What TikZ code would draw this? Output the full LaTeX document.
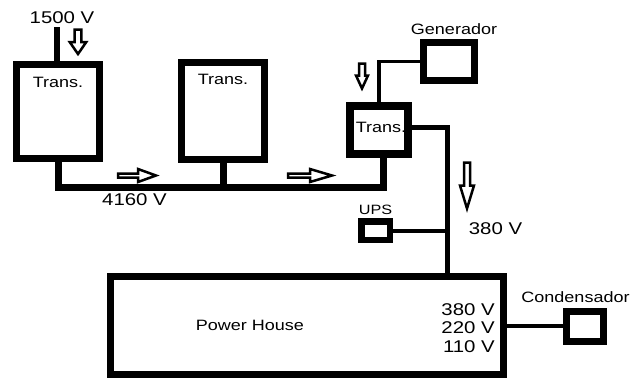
\documentclass[tikz,border=0pt]{standalone}
\usepackage{fontspec}
\setmainfont{Liberation Sans}[FakeStretch=1.2]
\usetikzlibrary{positioning,calc}
\tikzset{
  unit/.style={rectangle, draw, fill=white, line width=7pt, inner sep=0pt},
  bus/.style={line width=7pt, line join=miter},
  feed/.style={line width=4pt, line join=miter},
  lbl/.style={inner sep=0pt, font=\fontsize{15}{18}\selectfont},
  volt/.style={inner sep=0pt, font=\fontsize{17}{18.7}\selectfont},
  arrowline/.style={line width=2.5pt, line join=miter},
  % hollow arrow: length, head length, shaft half width, head half width
  pics/hollow/.style n args={4}{code={
    \draw[arrowline] (0,{-#3}) -- ({#1-#2},{-#3}) -- ({#1-#2},{-#4}) -- (#1,0)
      -- ({#1-#2},{#4}) -- ({#1-#2},{#3}) -- (0,{#3}) -- cycle;
  }},
}

\begin{document}
\begin{tikzpicture}[x=1pt, y=-1pt]
  \useasboundingbox (0,0) rectangle (634,381);

  % transformers
  \node[unit, minimum width=83pt, minimum height=94pt] (t1) at (58,111.5) {};
  \node[unit, minimum width=83pt, minimum height=97pt] (t2) at (223,111) {};
  \node[unit, line width=8pt, minimum width=58pt, minimum height=48pt] (t3) at (379,130) {};
  \node[unit, minimum width=51pt, minimum height=38pt] (gen) at (449,61.5) {};
  \node[unit, line width=6.5pt, minimum width=28.5pt, minimum height=18.5pt] (ups) at (375.5,230.5) {};
  \node[unit, minimum width=393pt, minimum height=98pt] (ph) at (307,325.5) {};
  \node[unit, minimum width=37pt, minimum height=30pt] (cond) at (584.5,326) {};

  \coordinate (in15) at (57,27);
  \coordinate (busR) at (383.5,187);
  \coordinate (bend) at (447.5,127.5);

  % lines
  \draw[bus, line width=6pt] (in15) -- (in15 |- t1.north);
  \draw[bus] (t1.south) |- (busR) -- (busR |- t3.south);
  \draw[bus] (t2.south) -- (t2.south |- busR);
  \draw[feed, line width=3.5pt] (t3.north) |- (gen.west);
  \draw[bus, line width=5pt] (t3.east |- bend) -- (bend) -- (bend |- ph.north);
  \draw[feed] (ups.east) -- (ups.east -| bend);
  \draw[feed] (ph.east) -- (ph.east -| cond.west);

  % hollow arrows
  \pic[rotate=-90] (a1) at (78,29.5) {hollow={24.5}{12}{3.3}{8.3}};
  \pic (a2) at (118,175.5) {hollow={38}{18}{2}{6.5}};
  \pic (a3) at (288,175.5) {hollow={44}{22}{2}{6.5}};
  \pic[rotate=-90] (a4) at (362,63.5) {hollow={25}{13}{3}{6}};
  \pic[rotate=-90] (a5) at (467,162.5) {hollow={46}{23}{3}{7}};

  % labels
  \node[lbl, below=16pt of t1.north] (t1txt) {Trans.};
  \node[lbl, below=15pt of t2.north] (t2txt) {Trans.};
  \node[lbl] (t3txt) at (381,127.5) {Trans.};
  \node[lbl, above=4pt of gen.north, xshift=5pt] (gentxt) {Generador};
  \node[lbl, font=\fontsize{13.5}{16}\selectfont, above=3pt of ups.north] (upstxt) {UPS};
  \node[lbl, above=4.5pt of cond.north, xshift=-9pt] (condtxt) {Condensador};
  \node[lbl] (phtxt) at (250,325) {Power House};
  \node[volt] (v1500) at (62,18) {1500 V};
  \node[volt] (v4160) at (134.5,200) {4160 V};
  \node[volt] (v380) at (495.5,229) {380 V};
  \node[volt, align=right, anchor=east] (vout) at (495,328) {380 V\\220 V\\110 V};
\end{tikzpicture}
\end{document}
